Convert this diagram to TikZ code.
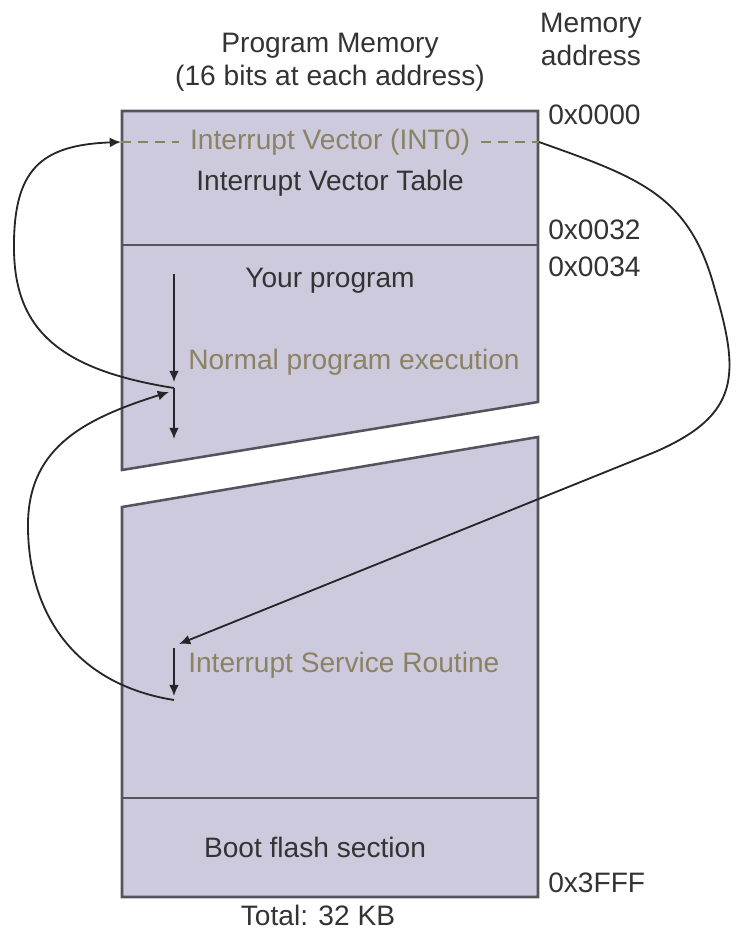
\documentclass[tikz,border=0pt]{standalone}
\usepackage{fontspec}
\setmainfont{Liberation Sans}
\usetikzlibrary{arrows.meta,positioning,calc}
\definecolor{memfill}{HTML}{CDCADD}
\definecolor{memedge}{HTML}{55545C}
\definecolor{notecol}{HTML}{8A8262}
\tikzset{
  Mblock/.style={draw=memedge, fill=memfill, line width=1.8pt, line join=miter},
  Mtext/.style={font=\fontsize{20}{23.5}\selectfont, text=black!80, inner sep=0pt,
                align=center},
  Mnote/.style={Mtext, text=notecol},
  Maddr/.style={Mtext, anchor=west},
  Narr/.style={-{Latex[length=8pt,width=7pt]}, line width=1.3pt, draw=black!85},
  Ndash/.style={draw=notecol, line width=1.4pt, dash pattern=on 7pt off 5pt}
}

\begin{document}
\begin{tikzpicture}[x=0.025cm, y=-0.025cm]
  \useasboundingbox (0,0) rectangle (739,933);

  % memory blocks
  \draw[Mblock] (122,111) -- (538,111) -- (538,402) -- (122,470) -- cycle;
  \draw[Mblock] (122,507) -- (538,437) -- (538,897) -- (122,897) -- cycle;
  \draw[Mblock] (122,245) -- (538,245);
  \draw[Mblock] (122,798) -- (538,798);

  % headings
  \node[Mtext] (pmem) at (330,62) {Program Memory\\(16 bits at each address)};
  \node[Mtext] (maddr) at (591,39) {Memory\\address};
  \node[Mtext] (total) at (318,915) {Total: 32 KB};

  % addresses
  \node[Maddr] (a0000) at (548,115) {0x0000};
  \node[Maddr] (a0032) at (548,230) {0x0032};
  \node[Maddr] (a0034) at (548,267) {0x0034};
  \node[Maddr] (a3fff) at (548,883) {0x3FFF};

  % block labels
  \node[Mnote, inner xsep=8pt] (intv) at (330,142) {Interrupt Vector (INT0)};
  \node[Mtext] (ivt) at (330,183) {Interrupt Vector Table};
  \node[Mtext] (yprog) at (330,281) {Your program};
  \node[Mnote, anchor=west] (normal) at (188,362) {Normal program execution};
  \node[Mnote, anchor=west] (isr) at (188,665) {Interrupt Service Routine};
  \node[Mtext] (boot) at (315,847) {Boot flash section};

  % arrow end points
  \coordinate (ivl) at (121,142);
  \coordinate (ivr) at (539,142);
  \coordinate (ptop) at (174,274);
  \coordinate (pstop) at (174,382);
  \coordinate (jn) at (174,388);
  \coordinate (pend) at (174,439);
  \coordinate (jin) at (169,392);
  \coordinate (isrin) at (179,644);
  \coordinate (isrtop) at (174,648);
  \coordinate (isrstop) at (174,696);
  \coordinate (isrend) at (174,700);

  \draw[Ndash] (ivl) -- (intv.west);
  \draw[Ndash] (intv.east) -- (ivr);

  % program flow
  \draw[Narr] (ptop) -- (pstop);
  \draw[Narr] (jn) -- (pend);
  \draw[Narr] (isrtop) -- (isrstop);

  % interrupt jump and return
  \draw[Narr] (jn) .. controls (60,370) and (15,330) .. (14,250)
              .. controls (13,170) and (40,145) .. (ivl);
  \draw[Narr] (ivr) .. controls (640,178) and (690,195) .. (715,290)
              .. controls (740,375) and (740,415) .. (655,452) -- (isrin);
  \draw[Narr] (isrend) .. controls (80,685) and (30,620) .. (28,530)
              .. controls (26,450) and (80,420) .. (jin);
\end{tikzpicture}
\end{document}
